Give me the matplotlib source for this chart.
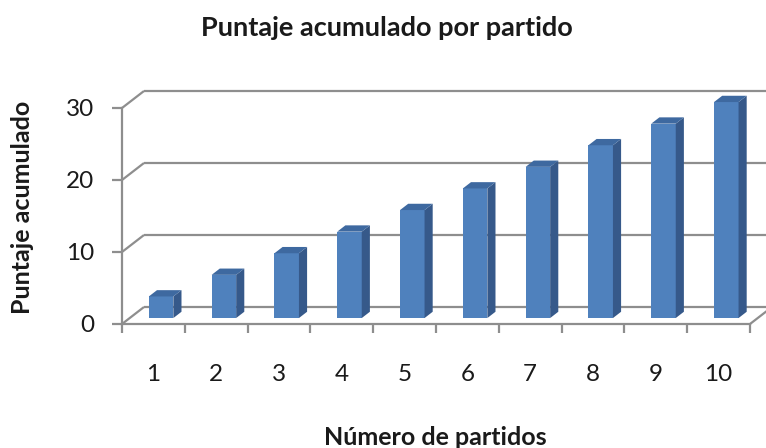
import matplotlib
matplotlib.use("Agg")
import matplotlib.pyplot as plt
from matplotlib.patches import Polygon

# ---- data ----
partidos = ["1", "2", "3", "4", "5", "6", "7", "8", "9", "10"]
puntaje = [3, 6, 9, 12, 15, 18, 21, 24, 27, 30]
y_ticks = [0, 10, 20, 30]
title = "Puntaje acumulado por partido"
xlabel = "Número de partidos"
ylabel = "Puntaje acumulado"

W, H = 766, 448
DPI = 100
fig = plt.figure(figsize=(W / DPI, H / DPI), dpi=DPI)
plt.rcParams['font.family'] = ['Lato', 'DejaVu Sans']

# axes: front plane of the 3D box
ax_l, ax_r, ax_t, ax_b = 122, 750, 108, 324
ax = fig.add_axes([ax_l / W, 1 - ax_b / H, (ax_r - ax_l) / W, (ax_b - ax_t) / H])
n = len(partidos)
ax.set_xlim(0.5, n + 0.5)
ax.set_ylim(0, 30)

px_x = (ax_r - ax_l) / n          # pixels per category
px_y = (ax_b - ax_t) / 30.0       # pixels per value unit
# oblique depth vector (full depth) in data units
DX = 22 / px_x
DY = 17 / px_y

grid_c = '#8e8e8e'
grid_lw = 1.6

# back wall gridlines and diagonals to front axis
for v in y_ticks:
    ax.plot([0.5, 0.5 + DX], [v, v + DY], color=grid_c, lw=grid_lw, clip_on=False, zorder=1,
            solid_capstyle='butt')
    ax.plot([0.5 + DX, n + 0.5 + DX + 0.5], [v + DY, v + DY], color=grid_c, lw=grid_lw,
            clip_on=False, zorder=1, solid_capstyle='butt')
# right floor edge
ax.plot([n + 0.5, n + 0.5 + DX], [0, DY], color=grid_c, lw=grid_lw, clip_on=False, zorder=1)

# bars
front_c = '#4f81bd'
side_c = '#36598a'
top_c = '#3e69a0'
bw = 24.5 / px_x
f0 = 0.35     # depth fraction of bar front face
fd = 0.37     # bar depth fraction
for i, v in enumerate(puntaje):
    xc = i + 1 + f0 * DX
    x0, x1 = xc - bw / 2, xc + bw / 2
    b = f0 * DY
    t = v + b
    dx, dy = fd * DX, fd * DY
    ax.add_patch(Polygon([(x0, b), (x1, b), (x1, t), (x0, t)], closed=True,
                         facecolor=front_c, edgecolor='none', zorder=3, clip_on=False))
    ax.add_patch(Polygon([(x1, b), (x1 + dx, b + dy), (x1 + dx, t + dy), (x1, t)], closed=True,
                         facecolor=side_c, edgecolor='none', zorder=3, clip_on=False))
    ax.add_patch(Polygon([(x0, t), (x1, t), (x1 + dx, t + dy), (x0 + dx, t + dy)], closed=True,
                         facecolor=top_c, edgecolor='none', zorder=3, clip_on=False))

# spines / ticks
for s in ['top', 'right']:
    ax.spines[s].set_visible(False)
for s in ['left', 'bottom']:
    ax.spines[s].set_color(grid_c)
    ax.spines[s].set_linewidth(grid_lw)
    ax.spines[s].set_zorder(4)
ax.set_facecolor('none')

ax.set_yticks(y_ticks)
ax.set_yticklabels([str(v) for v in y_ticks])
ax.tick_params(axis='y', direction='out', length=7, width=grid_lw, color=grid_c,
               labelsize=17.5, pad=13, labelcolor='#1a1a1a')

ax.set_xticks([k + 0.5 for k in range(n + 1)])
ax.set_xticklabels([])
ax.set_xticks(range(1, n + 1), minor=True)
ax.set_xticklabels(partidos, minor=True)
ax.tick_params(axis='x', which='major', direction='out', length=6.5, width=grid_lw, color=grid_c)
ax.tick_params(axis='x', which='minor', length=0, labelsize=17.5, pad=29, labelcolor='#1a1a1a')

fig.text(387 / W, 1 - 28 / H, title, ha='center', va='center', fontsize=19.5, fontweight='bold',
         color='#1a1a1a')
fig.text(435 / W, 1 - 437 / H, xlabel, ha='center', va='center', fontsize=18, fontweight='bold',
         color='#1a1a1a')
fig.text(23 / W, 1 - 207 / H, ylabel, ha='center', va='center', rotation=90, fontsize=18,
         fontweight='bold', color='#1a1a1a')

fig.savefig('out.png', dpi=DPI)
